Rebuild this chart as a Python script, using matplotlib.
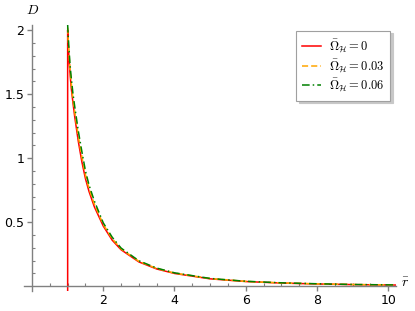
import matplotlib
matplotlib.use("Agg")
import matplotlib.pyplot as plt
from matplotlib.ticker import FixedLocator

plt.rcParams['mathtext.fontset'] = 'cm'
plt.rcParams['font.family'] = 'DejaVu Sans'

# Data
r_red = [1.0, 1.0, 1.01, 1.02, 1.04, 1.07, 1.1, 1.15, 1.2, 1.3, 1.4, 1.5, 1.6, 1.75, 2.0, 2.25, 2.5, 3.0, 3.5, 4.0, 5.0, 6.0, 7.0, 8.0, 9.0, 10.0, 10.2]
D_red = [-0.04, 2.00, 1.93, 1.87, 1.77, 1.65, 1.55, 1.43, 1.32, 1.13, 0.97, 0.84, 0.74, 0.62, 0.47, 0.36, 0.285, 0.19, 0.135, 0.10, 0.058, 0.037, 0.025, 0.018, 0.013, 0.010, 0.0095]

r_orange = [1.0, 1.01, 1.02, 1.04, 1.07, 1.1, 1.15, 1.2, 1.3, 1.4, 1.5, 1.6, 1.75, 2.0, 2.25, 2.5, 3.0, 3.5, 4.0, 5.0, 6.0, 7.0, 8.0, 9.0, 10.0, 10.2]
D_orange = [2.02, 1.95, 1.90, 1.80, 1.68, 1.59, 1.46, 1.36, 1.17, 1.01, 0.87, 0.765, 0.642, 0.483, 0.372, 0.292, 0.195, 0.139, 0.103, 0.060, 0.038, 0.026, 0.0187, 0.0136, 0.0104, 0.0099]

r_green = [1.0, 1.01, 1.02, 1.04, 1.07, 1.1, 1.15, 1.2, 1.3, 1.4, 1.5, 1.6, 1.75, 2.0, 2.25, 2.5, 3.0, 3.5, 4.0, 5.0, 6.0, 7.0, 8.0, 9.0, 10.0, 10.2]
D_green = [2.04, 1.98, 1.93, 1.84, 1.72, 1.63, 1.50, 1.40, 1.21, 1.05, 0.90, 0.79, 0.665, 0.495, 0.383, 0.298, 0.199, 0.142, 0.105, 0.061, 0.039, 0.027, 0.0195, 0.014, 0.0108, 0.0102]

labels = [r'$\bar{\Omega}_{\mathcal{H}}=0$', r'$\bar{\Omega}_{\mathcal{H}}=0.03$', r'$\bar{\Omega}_{\mathcal{H}}=0.06$']
x_major = [2, 4, 6, 8, 10]
y_major = [0.5, 1, 1.5, 2]

fig = plt.figure(figsize=(4.15, 3.11), dpi=100)
ax = fig.add_axes([24/415, 1-291/311, (396-24)/415, (291-25)/311])

ax.plot(r_red, D_red, color='#ff0000', lw=1.1, label=labels[0])
ax.plot(r_orange, D_orange, color='#ffa500', lw=1.1, ls=(0, (4, 2)), label=labels[1])
ax.plot(r_green, D_green, color='#008000', lw=1.1, ls=(0, (5, 2, 1, 2)), label=labels[2])

ax.set_xlim(-0.226, 10.22)
ax.set_ylim(-0.037, 2.04)

for s in ['top', 'right']:
    ax.spines[s].set_visible(False)
ax.spines['left'].set_position(('data', 0))
ax.spines['bottom'].set_position(('data', 0))
for s in ['left', 'bottom']:
    ax.spines[s].set_color('#808080')
    ax.spines[s].set_linewidth(1.0)

ax.xaxis.set_major_locator(FixedLocator(x_major))
ax.yaxis.set_major_locator(FixedLocator(y_major))
ax.xaxis.set_minor_locator(FixedLocator([0.5 * i for i in range(1, 21) if (0.5 * i) not in x_major]))
ax.yaxis.set_minor_locator(FixedLocator([0.1 * i for i in range(1, 21) if round(0.1 * i, 2) not in y_major]))
ax.set_xticklabels([str(v) for v in x_major])
ax.set_yticklabels(['0.5', '1', '1.5', '2'])
ax.tick_params(which='major', direction='out', length=3.5, width=1, color='#808080', labelsize=9, pad=2)
ax.tick_params(which='minor', direction='in', length=2.5, width=0.8, color='#808080')

fig.text(33/415, 1-10/311, r'$D$', fontsize=10, ha='center', va='center')
fig.text(405/415, 1-283/311, r'$\bar{r}$', fontsize=10, ha='center', va='center')

leg = ax.legend(loc='upper right', fontsize=9, fancybox=False, shadow={'color': '#c8c8c8', 'alpha': 1},
                edgecolor='#a0a0a0', framealpha=1, borderaxespad=0.45,
                handlelength=1.5, labelspacing=0.15, borderpad=0.5, handletextpad=0.6)
leg.get_frame().set_linewidth(0.8)

fig.savefig('out.png', dpi=100)
